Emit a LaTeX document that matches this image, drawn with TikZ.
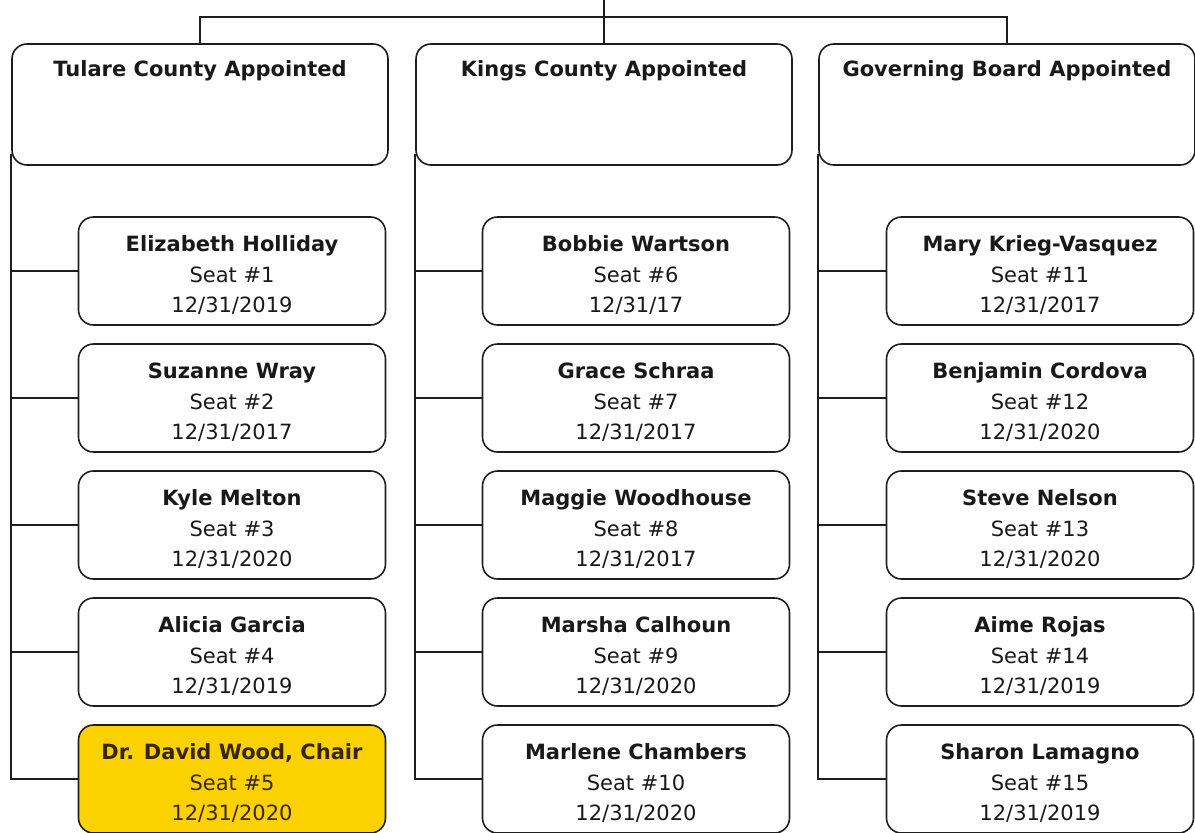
\documentclass[tikz,border=0pt]{standalone}
\usepackage{fontspec}
\setmainfont{DejaVu Sans}
\usetikzlibrary{positioning}
\definecolor{chairgold}{RGB}{252,209,0}
\definecolor{linegray}{RGB}{30,30,30}
\definecolor{chairtext}{RGB}{55,38,0}
\newcommand{\seatstrut}{\rule{0pt}{24pt}}
\tikzset{
    wire/.style={draw=linegray, line width=1.6pt},
    grouptitle/.style={anchor=base, yshift=-33pt, font=\fontsize{21}{25}\selectfont\bfseries, text=black!90},
    groupbox/.style={wire, rounded corners=15pt, minimum width=376pt, minimum height=121pt, inner sep=0pt, label={[grouptitle]north:#1}},
    seatbox/.style={wire, rounded corners=15pt, minimum width=307pt, minimum height=108pt, inner sep=0pt, align=center, text=black!90, font=\fontsize{21}{30.5}\selectfont},
    chairbox/.style={seatbox, fill=chairgold, text=chairtext}
}
\begin{document}
\begin{tikzpicture}[x=1pt, y=-1pt]
    \useasboundingbox (0,0) rectangle (1195,833);
    \node[groupbox=Tulare County Appointed] (tul) at (200,104.5) {};
    \node[groupbox=Kings County Appointed] (kin) at (604,104.5) {};
    \node[groupbox=Governing Board Appointed] (gov) at (1007,104.5) {};
    \coordinate (top) at (604,0);
    \coordinate (bus) at (604,17);
    \draw[wire] (top) -- (kin.north);
    \draw[wire] (tul.north) -- (tul.north |- bus) -- (gov.north |- bus) -- (gov.north);
    \coordinate (tspine) at ([yshift=12pt]tul.south west);
    \coordinate (kspine) at ([yshift=12pt]kin.south west);
    \coordinate (gspine) at ([yshift=12pt]gov.south west);
    \foreach \who/\seat/\term [count=\i] in {
            Elizabeth Holliday/1/{12/31/2019},
            Suzanne Wray/2/{12/31/2017},
            Kyle Melton/3/{12/31/2020},
            Alicia Garcia/4/{12/31/2019}}
        {
            \node[seatbox] (t\i) at (232,{271+127*(\i-1)}) {\seatstrut\textbf{\ignorespaces\who}\\Seat \#\seat\\\term};
            \draw[wire] (t\i.west) -- (t\i.west -| tspine);
        }
    \node[chairbox] (t5) at (232,779) {\seatstrut\textbf{Dr. David Wood, Chair}\\Seat \#5\\12/31/2020};
    \draw[wire] (tspine) |- (t5.west);
    \foreach \who/\seat/\term [count=\i] in {
            Bobbie Wartson/6/{12/31/17},
            Grace Schraa/7/{12/31/2017},
            Maggie Woodhouse/8/{12/31/2017},
            Marsha Calhoun/9/{12/31/2020},
            Marlene Chambers/10/{12/31/2020}}
        {
            \node[seatbox] (k\i) at (636,{271+127*(\i-1)}) {\seatstrut\textbf{\ignorespaces\who}\\Seat \#\seat\\\term};
            \draw[wire] (k\i.west) -- (k\i.west -| kspine);
        }
    \draw[wire] (kspine) |- (k5.west);
    \foreach \who/\seat/\term [count=\i] in {
            Mary Krieg-Vasquez/11/{12/31/2017},
            Benjamin Cordova/12/{12/31/2020},
            Steve Nelson/13/{12/31/2020},
            Aime Rojas/14/{12/31/2019},
            Sharon Lamagno/15/{12/31/2019}}
        {
            \node[seatbox] (g\i) at (1040,{271+127*(\i-1)}) {\seatstrut\textbf{\ignorespaces\who}\\Seat \#\seat\\\term};
            \draw[wire] (g\i.west) -- (g\i.west -| gspine);
        }
    \draw[wire] (gspine) |- (g5.west);
\end{tikzpicture}
\end{document}
